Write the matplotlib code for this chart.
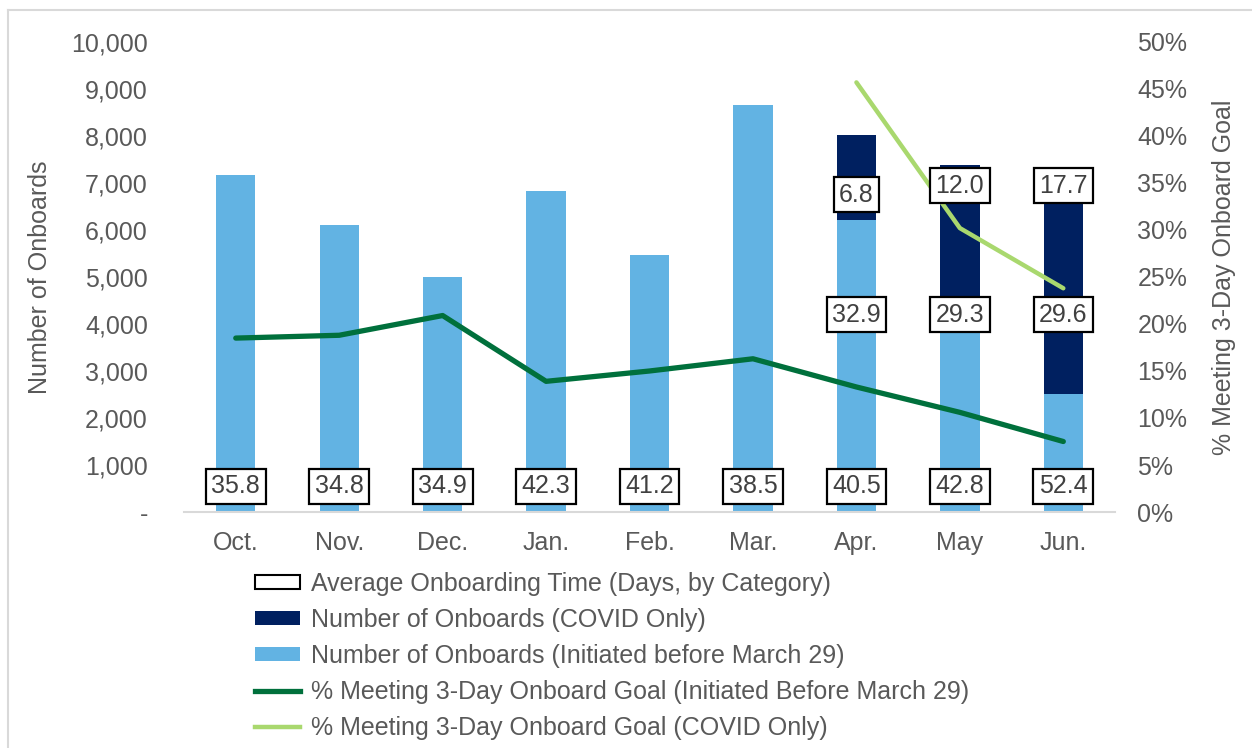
import matplotlib
matplotlib.use('Agg')
import matplotlib.pyplot as plt
from matplotlib.patches import Patch
from matplotlib.lines import Line2D
from matplotlib.ticker import FuncFormatter, MultipleLocator

plt.rcParams['font.family'] = ['Liberation Sans', 'DejaVu Sans']

months = ['Oct.', 'Nov.', 'Dec.', 'Jan.', 'Feb.', 'Mar.', 'Apr.', 'May', 'Jun.']
onboards_pre = [7170, 6100, 5000, 6830, 5470, 8660, 6210, 4580, 2500]
onboards_covid = [0, 0, 0, 0, 0, 0, 1810, 2800, 4400]
pct_pre = [18.5, 18.8, 20.9, 13.9, 15.0, 16.3, 13.3, 10.6, 7.5]
covid_months = ['Apr.', 'May', 'Jun.']
pct_covid = [45.7, 30.2, 23.8]
avg_days_all = [35.8, 34.8, 34.9, 42.3, 41.2, 38.5, 40.5, 42.8, 52.4]
avg_days_pre = [32.9, 29.3, 29.6]
avg_days_covid = [6.8, 12.0, 17.7]

LIGHT_BLUE = '#62B3E3'
NAVY = '#002060'
DARK_GREEN = '#00703C'
LIGHT_GREEN = '#A9D86E'
GRAY = '#595959'

fig = plt.figure(figsize=(12.52, 7.48), dpi=100)
ax = fig.add_axes([0.147, 0.3155, 0.7436, 0.6284])
ax2 = ax.twinx()

x = list(range(len(months)))
bars_pre = ax.bar(x, onboards_pre, width=0.38, color=LIGHT_BLUE, zorder=2)
bars_covid = ax.bar(x, onboards_covid, width=0.38, bottom=onboards_pre,
                    color=NAVY, zorder=2)

line_pre, = ax2.plot(x, pct_pre, color=DARK_GREEN, linewidth=3.8,
                     solid_capstyle='round', zorder=3)
xc = [months.index(m) for m in covid_months]
line_covid, = ax2.plot(xc, pct_covid, color=LIGHT_GREEN, linewidth=3.2,
                       solid_capstyle='round', zorder=3)

ax.set_xlim(-0.5, len(months) - 0.5)
ax.set_ylim(0, 10000)
ax2.set_ylim(0, 50)
ax.yaxis.set_major_locator(MultipleLocator(1000))
ax2.yaxis.set_major_locator(MultipleLocator(5))
ax.yaxis.set_major_formatter(FuncFormatter(lambda v, p: '-' if v == 0 else f'{v:,.0f}'))
ax2.yaxis.set_major_formatter(FuncFormatter(lambda v, p: f'{v:.0f}%'))
ax.set_xticks(x)
ax.set_xticklabels(months)

for a in (ax, ax2):
    for s in a.spines.values():
        s.set_visible(False)
    a.tick_params(length=0, labelsize=18, labelcolor=GRAY)
ax.spines['bottom'].set_visible(True)
ax.spines['bottom'].set_color('#D9D9D9')
ax.spines['bottom'].set_linewidth(1.5)
ax.tick_params(axis='y', pad=26)
ax.tick_params(axis='x', pad=14)
ax2.tick_params(axis='y', pad=16)

ax.set_ylabel('Number of Onboards', fontsize=18, color=GRAY, labelpad=14)
ax2.set_ylabel('% Meeting 3-Day Onboard Goal', fontsize=18, color=GRAY, labelpad=18)

box = dict(boxstyle='square,pad=0.22', facecolor='white', edgecolor='black', linewidth=1.6)
for i, v in enumerate(avg_days_all):
    ax2.text(i, 550, f'{v:.1f}', transform=ax.transData, ha='center', va='center',
             fontsize=18, color='#404040', bbox=box, zorder=5)
for j, m in enumerate(covid_months):
    i = months.index(m)
    ax2.text(i, 4200, f'{avg_days_pre[j]:.1f}', transform=ax.transData, ha='center',
             va='center', fontsize=18, color='#404040', bbox=box, zorder=5)
    ax2.text(i, 6750 if j == 0 else 6940, f'{avg_days_covid[j]:.1f}', transform=ax.transData,
             ha='center', va='center', fontsize=18, color='#404040', bbox=box, zorder=5)

handles = [Patch(facecolor='white', edgecolor='black', linewidth=1.5),
           Patch(facecolor=NAVY), Patch(facecolor=LIGHT_BLUE),
           Line2D([], [], color=DARK_GREEN, linewidth=3.8),
           Line2D([], [], color=LIGHT_GREEN, linewidth=3.2)]
labels = ['Average Onboarding Time (Days, by Category)',
          'Number of Onboards (COVID Only)',
          'Number of Onboards (Initiated before March 29)',
          '% Meeting 3-Day Onboard Goal (Initiated Before March 29)',
          '% Meeting 3-Day Onboard Goal (COVID Only)']
fig.legend(handles, labels, loc='upper left', bbox_to_anchor=(255 / 1252, 1 - 572 / 748),
           frameon=False, fontsize=18, labelcolor=GRAY, handlelength=1.8,
           handleheight=0.5, handletextpad=0.45, labelspacing=0.48, borderpad=0,
           borderaxespad=0)

fig.add_artist(Line2D([8 / 1252, 8 / 1252], [0, 1 - 10 / 748], transform=fig.transFigure,
                      color='#D9D9D9', linewidth=1.5))
fig.add_artist(Line2D([8 / 1252, 1], [1 - 10 / 748, 1 - 10 / 748], transform=fig.transFigure,
                      color='#D9D9D9', linewidth=1.5))

fig.savefig('out.png', dpi=100, facecolor='white')
